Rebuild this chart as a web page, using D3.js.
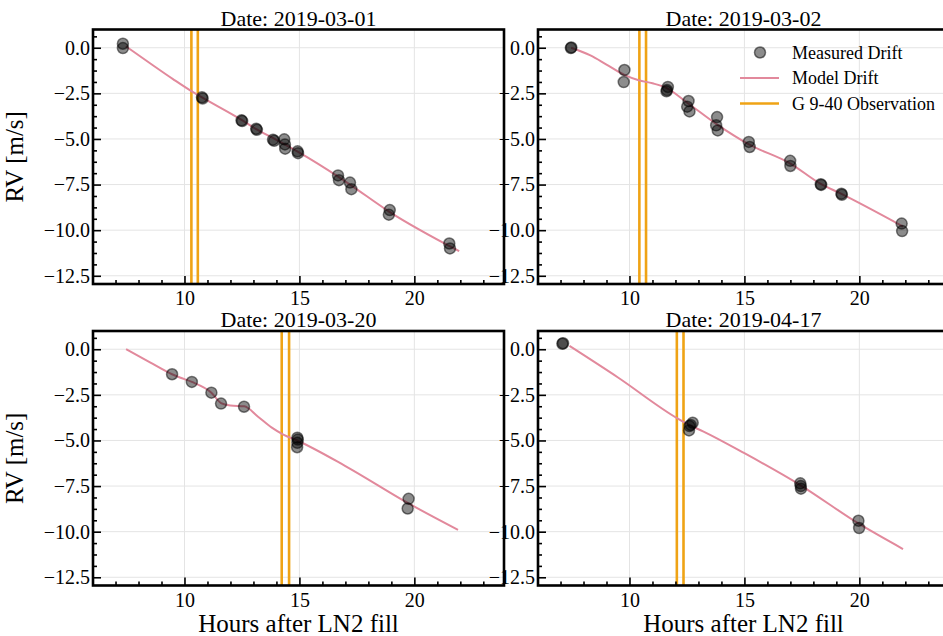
<!DOCTYPE html>
<html>
<head>
<meta charset="utf-8">
<title>RV drift after LN2 fill</title>
<style>
body { margin: 0; background: #fff; }
svg text { font-family: "Liberation Serif", "Times New Roman", serif !important; fill: #000; }
</style>
</head>
<body>
<script src="https://d3js.org/d3.v7.min.js"></script>
<script>
// titles of the four nights
var dates = ["2019-03-01", "2019-03-02", "2019-03-20", "2019-04-17"];

// measured drift [hours, m/s]
var measured1 = [[7.32,0.22],[7.32,-0.02],[10.76,-2.72],[10.79,-2.78],[12.48,-3.98],[12.51,-4.02],
  [13.12,-4.44],[13.15,-4.5],[13.85,-5.04],[13.9,-5.1],[14.34,-5.02],[14.37,-5.3],[14.38,-5.53],
  [14.92,-5.68],[14.94,-5.78],[16.68,-7.0],[16.72,-7.26],[17.2,-7.39],[17.26,-7.75],
  [18.93,-8.9],[18.89,-9.15],[21.52,-10.73],[21.55,-11.0]];
var measured2 = [[7.45,-0.02],[7.47,0.02],[9.78,-1.22],[9.75,-1.88],[11.67,-2.15],[11.61,-2.39],[11.63,-2.32],
  [12.57,-2.92],[12.51,-3.23],[12.61,-3.49],[13.81,-3.8],[13.77,-4.25],[13.84,-4.53],
  [15.19,-5.16],[15.23,-5.44],[16.99,-6.2],[17.0,-6.48],[18.32,-7.48],[18.34,-7.52],
  [19.22,-8.0],[19.24,-8.06],[21.84,-9.64],[21.86,-10.05]];
var measured3 = [[9.46,-1.37],[10.32,-1.79],[11.17,-2.38],[11.59,-2.98],[12.59,-3.15],
  [14.91,-4.85],[14.93,-4.95],[14.91,-5.13],[14.9,-5.37],[19.75,-8.2],[19.71,-8.73]];
var measured4 = [[7.08,0.3],[7.11,0.33],[12.75,-4.03],[12.61,-4.21],[12.59,-4.45],[12.66,-4.15],
  [17.43,-7.35],[17.45,-7.5],[17.46,-7.64],[19.96,-9.4],[19.99,-9.8]];

// model drift
var model1 = [[7.45,0.08],[8.5,-0.85],[9.5,-1.72],[10.3,-2.38],[10.8,-2.75],[12.5,-3.97],[13.1,-4.45],
  [14.0,-5.05],[15.0,-5.75],[16.7,-7.08],[17.2,-7.5],[18.9,-8.98],[21.95,-11.15]];
var model2 = [[7.46,0.0],[8.3,-0.42],[9.0,-0.92],[9.8,-1.5],[10.4,-1.78],[11.0,-1.95],[11.6,-2.2],
  [12.5,-3.0],[13.8,-4.2],[15.2,-5.3],[17.0,-6.35],[18.3,-7.45],[19.2,-8.0],[21.9,-9.8]];
var model3 = [[7.46,0.0],[8.5,-0.72],[9.46,-1.37],[9.8,-1.55],[10.32,-1.79],[11.17,-2.38],[11.59,-2.95],
  [12.0,-3.08],[12.6,-3.13],[13.2,-3.7],[13.8,-4.3],[14.3,-4.68],[14.9,-5.0],[17.0,-6.4],
  [19.75,-8.45],[21.9,-9.9]];
var model4 = [[7.39,0.18],[9.5,-1.55],[12.1,-3.8],[12.6,-4.15],[13.2,-4.5],[15.0,-5.7],[17.46,-7.47],
  [19.96,-9.55],[21.9,-10.95]];

// start / end of the G 9-40 exposure
var obs1 = [10.30, 10.58];
var obs2 = [10.43, 10.72];
var obs3 = [14.23, 14.55];
var obs4 = [12.06, 12.35];

var xTicks = [10, 15, 20];
var yTicks = [0, -2.5, -5, -7.5, -10, -12.5];
var legendLabels = ["Measured Drift", "Model Drift", "G 9-40 Observation"];

var measured = [measured1, measured2, measured3, measured4];
var models = [model1, model2, model3, model4];
var obs = [obs1, obs2, obs3, obs4];

var width = 943, height = 636;
var pw = 411, ph = 254.5;
var origins = [[93, 29.5], [538, 29.5], [93, 331], [538, 331]];

var orange = "#efa315", pink = "#e2899c";
var serif = '"Liberation Serif", "Times New Roman", serif';

var svg = d3.select("body").append("svg")
  .attr("width", width)
  .attr("height", height);

var x = d3.scaleLinear().domain([6.02, 23.9]).range([0, pw]);
var y = d3.scaleLinear().domain([-12.95, 1.0]).range([ph, 0]);

var xMinor = d3.range(7, 24).filter(function(v) { return xTicks.indexOf(v) < 0; });
var yMinor = d3.range(0.625, -13, -0.625).filter(function(v) {
  return Math.abs(v / 2.5 - Math.round(v / 2.5)) > 1e-6;
});

var line = d3.line()
  .x(function(d) { return x(d[0]); })
  .y(function(d) { return y(d[1]); })
  .curve(d3.curveMonotoneX);

origins.forEach(function(o, i) {
  var g = svg.append("g").attr("transform", "translate(" + o[0] + "," + o[1] + ")");

  // grid
  g.selectAll(".gx").data(xTicks).enter().append("line")
    .attr("x1", x).attr("x2", x).attr("y1", 0).attr("y2", ph)
    .attr("stroke", "#e4e4e4").attr("stroke-width", 1);
  g.selectAll(".gy").data(yTicks).enter().append("line")
    .attr("y1", y).attr("y2", y).attr("x1", 0).attr("x2", pw)
    .attr("stroke", "#e4e4e4").attr("stroke-width", 1);

  // observation window
  g.selectAll(".obs").data(obs[i]).enter().append("line")
    .attr("x1", x).attr("x2", x).attr("y1", 0).attr("y2", ph)
    .attr("stroke", orange).attr("stroke-width", 2.6);

  g.append("path").datum(models[i])
    .attr("d", line)
    .attr("fill", "none")
    .attr("stroke", pink)
    .attr("stroke-width", 2);

  g.selectAll("circle").data(measured[i]).enter().append("circle")
    .attr("cx", function(d) { return x(d[0]); })
    .attr("cy", function(d) { return y(d[1]); })
    .attr("r", 5.5)
    .attr("fill", "#000").attr("fill-opacity", 0.45)
    .attr("stroke", "#000").attr("stroke-opacity", 0.5).attr("stroke-width", 1.5);

  // axes, ticks pointing inward
  var ax = g.append("g").attr("transform", "translate(0," + ph + ")")
    .call(d3.axisBottom(x).tickValues(xTicks).tickSize(-8).tickPadding(7).tickFormat(d3.format("d")));
  g.append("g").attr("transform", "translate(0," + ph + ")")
    .call(d3.axisBottom(x).tickValues(xMinor).tickSize(-4).tickFormat(""));
  var ay = g.append("g")
    .call(d3.axisLeft(y).tickValues(yTicks).tickSize(-8).tickPadding(3).tickFormat(d3.format(".1f")));
  g.append("g")
    .call(d3.axisLeft(y).tickValues(yMinor).tickSize(-4).tickFormat(""));

  g.selectAll(".domain").remove();
  g.selectAll("g").attr("font-family", serif);
  g.selectAll(".tick line").attr("stroke", "#000").attr("stroke-width", 1.6);
  ax.selectAll("text").attr("dy", "0.72em");
  g.selectAll(".tick text").style("font-family", serif).style("font-size", "20px");

  g.append("rect")
    .attr("width", pw).attr("height", ph)
    .attr("fill", "none").attr("stroke", "#000").attr("stroke-width", 2.6);

  g.append("text")
    .attr("x", pw / 2).attr("y", -4)
    .attr("text-anchor", "middle")
    .attr("font-size", 22)
    .text("Date: " + dates[i]);

  if (i % 2 === 0) {
    g.append("text")
      .attr("transform", "translate(-70," + (ph / 2) + ") rotate(-90)")
      .attr("text-anchor", "middle")
      .attr("font-size", 25)
      .text("RV [m/s]");
  }
  if (i >= 2) {
    g.append("text")
      .attr("x", pw / 2).attr("y", ph + 46)
      .attr("text-anchor", "middle")
      .attr("font-size", 25)
      .text("Hours after LN2 fill");
  }

  if (i === 1) {
    var lg = g.append("g").attr("transform", "translate(202,23)");
    var rows = lg.selectAll("g").data(legendLabels).enter().append("g")
      .attr("transform", function(d, k) { return "translate(0," + (k * 25.5) + ")"; });
    rows.append("text")
      .attr("x", 52).attr("dy", "0.35em")
      .attr("font-size", 18)
      .text(function(d) { return d; });
    lg.append("circle").attr("cx", 20).attr("cy", 0).attr("r", 5.5)
      .attr("fill", "#000").attr("fill-opacity", 0.45)
      .attr("stroke", "#000").attr("stroke-opacity", 0.5).attr("stroke-width", 1.5);
    lg.append("line").attr("x1", 0).attr("x2", 39).attr("y1", 25.5).attr("y2", 25.5)
      .attr("stroke", pink).attr("stroke-width", 2);
    lg.append("line").attr("x1", 0).attr("x2", 39).attr("y1", 51).attr("y2", 51)
      .attr("stroke", orange).attr("stroke-width", 2.6);
  }
});
</script>
</body>
</html>
